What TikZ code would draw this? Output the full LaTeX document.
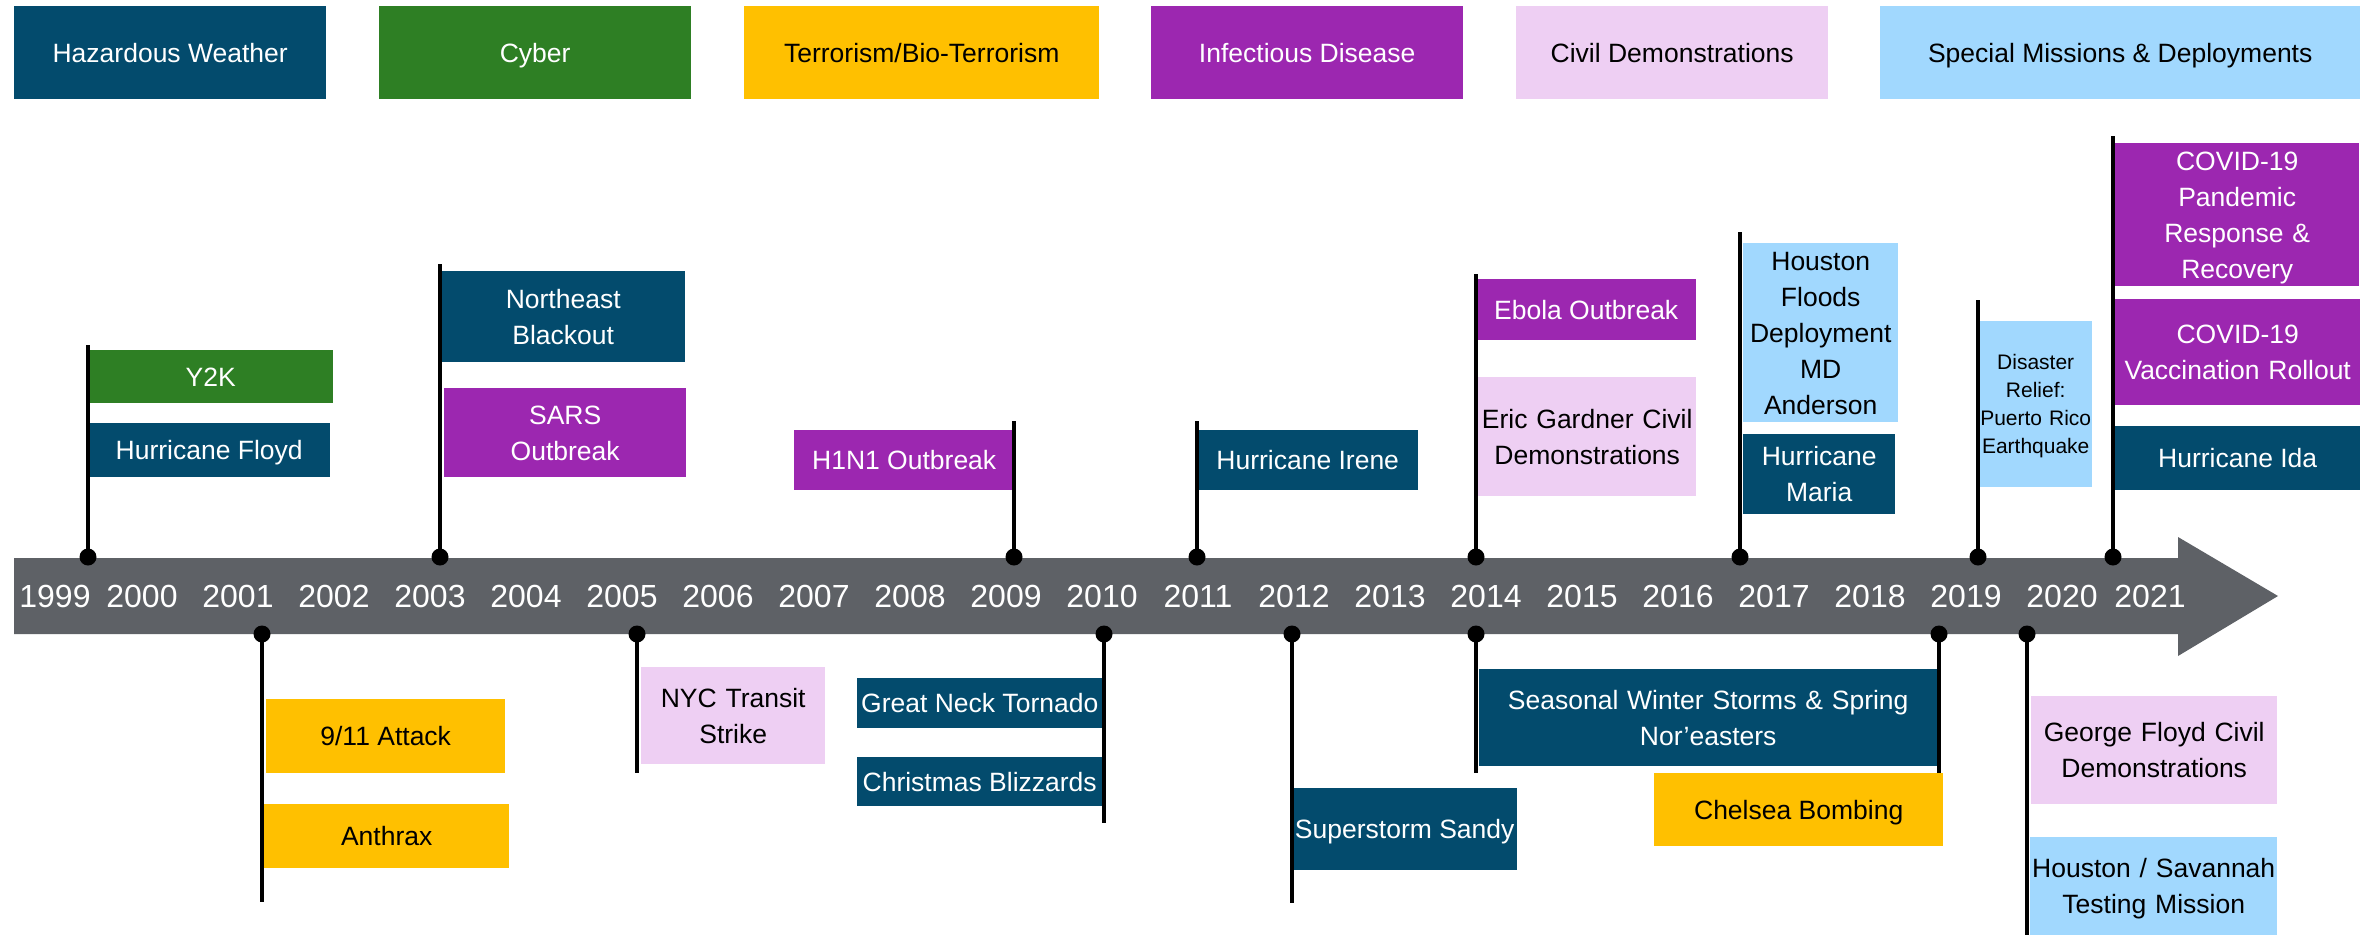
\documentclass[tikz,border=0pt]{standalone}
\usepackage{fontspec}
\setmainfont{Liberation Sans}
\usepackage{xcolor}
\usepackage{tikz}
\definecolor{wxblue}{HTML}{034B6D}
\definecolor{cybgreen}{HTML}{2E7F24}
\definecolor{teryellow}{HTML}{FFC000}
\definecolor{infpurple}{HTML}{9C27B0}
\definecolor{civpink}{HTML}{EECFF3}
\definecolor{spmblue}{HTML}{A1D8FE}
\definecolor{bargray}{HTML}{5E6166}
\newcommand{\evtstrut}{\rule[-0.3em]{0pt}{1.32em}}
\newcommand{\mlstrut}{\rule[-0.3em]{0pt}{1.02em}}
\tikzset{
    evt/.style={anchor=north west, inner sep=0pt, align=center, font=\fontsize{26.5}{36}\selectfont,
        execute at begin node=\evtstrut, execute at end node=\evtstrut},
    ml/.style={text width=#1pt, execute at begin node=\mlstrut, execute at end node=\mlstrut},
    sz/.style 2 args={minimum width=#1pt, minimum height=#2pt},
    wx/.style={evt, fill=wxblue, text=white},
    cyb/.style={evt, fill=cybgreen, text=white},
    ter/.style={evt, fill=teryellow, text=black},
    inf/.style={evt, fill=infpurple, text=white},
    civ/.style={evt, fill=civpink, text=black},
    spm/.style={evt, fill=spmblue, text=black},
    yrlbl/.style={text=white, inner sep=0pt, font=\fontsize{32}{32}\selectfont},
    pin/.style={circle, fill=black, inner sep=0pt, minimum size=17pt},
    pole/.style={line width=4.5pt}
}
\begin{document}
\begin{tikzpicture}[x=1pt,y=1pt,yscale=-1,xscale=1]
            \useasboundingbox (0,0) rectangle (2377,935);
            \fill[white] (0,0) rectangle (2377,935);
            %legend
            \node[wx, sz={312}{93}] (lgwx) at (14,6) {Hazardous Weather};
            \node[cyb, sz={312}{93}] (lgcyb) at (379,6) {Cyber};
            \node[ter, sz={355}{93}] (lgter) at (744,6) {Terrorism/Bio-Terrorism};
            \node[inf, sz={312}{93}] (lginf) at (1151,6) {Infectious Disease};
            \node[civ, sz={312}{93}] (lgciv) at (1516,6) {Civil Demonstrations};
            \node[spm, sz={480}{93}] (lgspm) at (1880,6) {Special Missions \& Deployments};
            %
            %timeline arrow
            \fill[bargray] (14,558) -- (2178,558) -- (2178,537) -- (2278,596) -- (2178,656) -- (2178,634) -- (14,634) -- cycle;
            \node[yrlbl] (yr1999) at (55,596) {1999};
            \foreach \i in {0, ..., 20} {
                \pgfmathtruncatemacro\yr{2000+\i}
                \node[yrlbl] (yr\yr) at (142+96*\i,596) {\yr};
            }
            \node[yrlbl] (yr2021) at (2150,596) {2021};
            %
            %events above
            \node[cyb, sz={245}{53}] (y2k) at (88,350) {Y2K};
            \node[wx, sz={242}{54}] (floyd) at (88,423) {Hurricane Floyd};
            \node[wx, ml=244, sz={244}{91}] (blackout) at (441,271) {Northeast\\Blackout};
            \node[inf, ml=242, sz={242}{89}] (sars) at (444,388) {SARS\\Outbreak};
            \node[inf, sz={220}{60}] (hini) at (794,430) {H1N1 Outbreak};
            \node[wx, sz={221}{60}] (irene) at (1197,430) {Hurricane Irene};
            \node[inf, sz={220}{61}] (ebola) at (1476,279) {Ebola Outbreak};
            \node[civ, ml=218, sz={218}{119}] (gardner) at (1478,377) {Eric Gardner Civil\\Demonstrations};
            \node[spm, ml=155, sz={155}{176}] (houston) at (1743,243) {Houston\\Floods\\Deployment\\MD\\Anderson};
            \node[wx, ml=152, sz={152}{80}] (maria) at (1743,434) {Hurricane\\Maria};
            \node[spm, ml=113, sz={113}{166}, font=\fontsize{21}{28}\selectfont] (prico) at (1979,321) {Disaster\\Relief:\\Puerto Rico\\Earthquake};
            \node[inf, ml=244, sz={244}{143}] (pandemic) at (2115,143) {COVID-19\\Pandemic\\Response \&\\Recovery};
            \node[inf, ml=245, sz={245}{106}] (vaccine) at (2115,299) {COVID-19\\Vaccination Rollout};
            \node[wx, sz={245}{64}] (ida) at (2115,426) {Hurricane Ida};
            %
            %events below
            \node[ter, sz={239}{74}] (attack) at (266,699) {9/11 Attack};
            \node[ter, sz={245}{64}] (anthrax) at (264,804) {Anthrax};
            \node[civ, ml=184, sz={184}{97}] (transit) at (641,667) {NYC Transit\\Strike};
            \node[wx, sz={245}{50}] (tornado) at (857,678) {Great Neck Tornado};
            \node[wx, sz={245}{49}] (blizzard) at (857,757) {Christmas Blizzards};
            \node[wx, sz={225}{82}] (sandy) at (1292,788) {Superstorm Sandy};
            \node[wx, ml=458, sz={458}{97}] (winter) at (1479,669) {Seasonal Winter Storms \& Spring\\Nor'easters};
            \node[ter, sz={289}{73}] (chelsea) at (1654,773) {Chelsea Bombing};
            \node[civ, ml=246, sz={246}{108}] (gfloyd) at (2031,696) {George Floyd Civil\\Demonstrations};
            \node[spm, ml=247, sz={247}{98}] (testing) at (2030,837) {Houston / Savannah\\Testing Mission};
            %
            %pins and poles
            \foreach \n/\x/\e in {1999/88/345, 2003/440/264, 2009/1014/421, 2011/1197/421, 2014/1476/274, 2017/1740/232, 2019/1978/300, 2021/2113/136} {
                \node[pin] (dt\n) at (\x,557) {};
                \coordinate (et\n) at (\x,\e);
                \draw[pole] (dt\n.center) -- (et\n);
            }
            \foreach \n/\x/\e in {2001/262/902, 2005/637/773, 2010/1104/823, 2012/1292/903, 2014/1476/773, 2018/1939/773, 2020/2027/935} {
                \node[pin] (db\n) at (\x,634) {};
                \coordinate (eb\n) at (\x,\e);
                \draw[pole] (db\n.center) -- (eb\n);
            }
            %
        \end{tikzpicture}
\end{document}
